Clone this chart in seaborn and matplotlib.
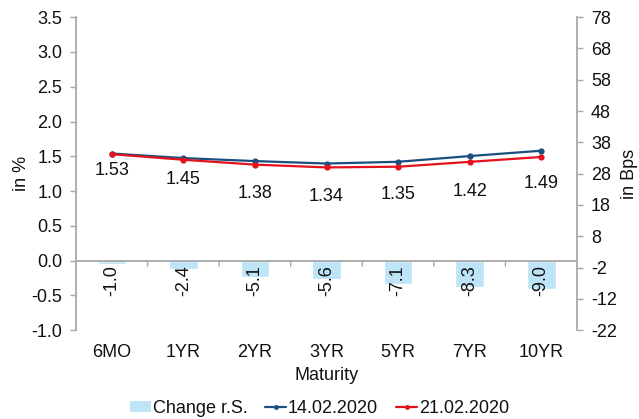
import matplotlib
matplotlib.use("Agg")
import matplotlib.pyplot as plt
from matplotlib.lines import Line2D
from matplotlib.patches import Patch
import numpy as np
import pandas as pd
import seaborn as sns

# Yield curve data
maturities = ["6MO", "1YR", "2YR", "3YR", "5YR", "7YR", "10YR"]
yield_14feb = [1.54, 1.474, 1.431, 1.396, 1.421, 1.503, 1.58]
yield_21feb = [1.53, 1.45, 1.38, 1.34, 1.35, 1.42, 1.49]
change_bps = [-1.0, -2.4, -5.1, -5.6, -7.1, -8.3, -9.0]

left_ticks = [-1.0, -0.5, 0.0, 0.5, 1.0, 1.5, 2.0, 2.5, 3.0, 3.5]
right_ticks = [-22, -12, -2, 8, 18, 28, 38, 48, 58, 68, 78]

sns.set_theme(style="white")
plt.rcParams["font.family"] = ["Liberation Sans", "DejaVu Sans"]

BAR = "#BDE4F7"
BLUE = "#1B4F80"
RED = "#E3121C"
GREY = "#A6A6A6"
TXT = "#111111"
FS = 13

df = pd.DataFrame({"Maturity": maturities, "y14": yield_14feb,
                   "y21": yield_21feb, "chg": change_bps})

fig = plt.figure(figsize=(6.39, 4.19), dpi=100)
ax = fig.add_axes([0.119, 0.212, 0.784, 0.747])
ax2 = ax.twinx()

# Bars on the right (bps) axis
sns.barplot(data=df, x="Maturity", y="chg", ax=ax2, color=BAR,
            width=0.4, saturation=1, zorder=1)
ax2.set_ylim(right_ticks[0], right_ticks[-1])
ax2.set_yticks(right_ticks)
ax2.set_yticklabels([str(t) for t in right_ticks], fontsize=FS)

# Lines on the left (%) axis
x = np.arange(len(maturities))
sns.lineplot(x=x, y=df["y14"], ax=ax, color=BLUE, lw=1.6, marker="o",
             markersize=4.5, markeredgewidth=0, zorder=3)
sns.lineplot(x=x, y=df["y21"], ax=ax, color=RED, lw=1.6, marker="o",
             markersize=4.5, markeredgewidth=0, zorder=4)
ax.set_zorder(ax2.get_zorder() + 1)
ax.patch.set_visible(False)

ax.set_ylim(left_ticks[0], left_ticks[-1])
ax.set_yticks(left_ticks)
ax.set_yticklabels([f"{t:.1f}" for t in left_ticks], fontsize=FS)
ax.set_xlim(-0.5, len(maturities) - 0.5)
ax.set_xticks(x)
ax.set_xticklabels(maturities, fontsize=FS)
ax2.set_xlim(-0.5, len(maturities) - 0.5)

# Zero line with category separators
ax.axhline(0, color=GREY, lw=1.3, zorder=2)
for s in x[:-1] + 0.5:
    ax.annotate("", xy=(s, 0), xytext=(0, -4), textcoords="offset points",
                arrowprops=dict(arrowstyle="-", color=GREY, lw=1.0,
                                shrinkA=0, shrinkB=0))

# Value labels for the 21.02.2020 curve
label_drop = [12, 14, 21, 21, 20, 21, 19]
for xi, v, d in zip(x, yield_21feb, label_drop):
    ax.annotate(f"{v:.2f}", xy=(xi, v), xytext=(0, -d), textcoords="offset points",
                ha="center", va="center", fontsize=FS, color=TXT)

# Value labels inside the bars
for xi, c in zip(x, change_bps):
    ax2.annotate(f"{c:.1f}", xy=(xi, 0), xytext=(0, -3), textcoords="offset points",
                 ha="center", va="top", rotation=90, fontsize=FS, color=TXT)

for a in (ax, ax2):
    a.grid(False)
    a.spines["top"].set_visible(False)
    a.spines["bottom"].set_visible(False)
    a.spines["left"].set_color(GREY)
    a.spines["right"].set_color(GREY)
ax.spines["right"].set_visible(False)
ax2.spines["left"].set_visible(False)

ax.tick_params(axis="y", direction="out", length=4, color=GREY, width=1,
               left=True, pad=6, labelcolor=TXT)
ax.tick_params(axis="x", length=0, pad=10, labelcolor=TXT)
ax2.tick_params(axis="y", direction="out", length=4, color=GREY, width=1,
                right=True, pad=6, labelcolor=TXT)

ax.set_ylabel("in %", fontsize=FS, labelpad=1, color=TXT)
ax2.set_ylabel("in Bps", fontsize=FS, labelpad=3, color=TXT)
ax2.set_xlabel("")
ax.set_xlabel("Maturity", fontsize=FS, labelpad=4, color=TXT)

handles = [
    Patch(facecolor=BAR, edgecolor="none", label="Change r.S."),
    Line2D([0], [0], color=BLUE, lw=1.6, marker="o", markersize=3.5,
           markeredgewidth=0, label="14.02.2020"),
    Line2D([0], [0], color=RED, lw=1.6, marker="o", markersize=3.5,
           markeredgewidth=0, label="21.02.2020"),
]
fig.legend(handles=handles, loc="center", bbox_to_anchor=(0.5, 0.026), ncol=3,
           frameon=False, fontsize=FS, handlelength=1.15, handleheight=0.6,
           handletextpad=0.1, columnspacing=1.0, labelcolor=TXT)

fig.savefig("out.png", dpi=100)
